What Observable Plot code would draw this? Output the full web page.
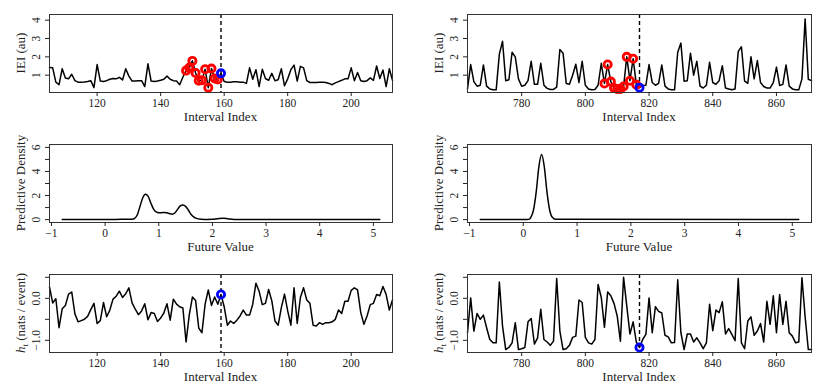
<!DOCTYPE html>
<html><head><meta charset="utf-8">
<script src="https://cdn.jsdelivr.net/npm/d3@7"></script>
<script src="https://cdn.jsdelivr.net/npm/@observablehq/plot@0.6"></script>
<style>
html,body{margin:0;padding:0;background:#fff;overflow:hidden}
#chart{position:relative;width:830px;height:388px;overflow:hidden}
#chart svg{position:absolute}
</style></head><body><div id="chart"></div>
<script>
// ---------------- data ----------------
const leftStart = 105;   // first interval index, left column
const rightStart = 763;  // first interval index, right column
const focusLeft = 159;
const focusRight = 817;
const historyLen = 11;

const ieiLeft = [1.42,1.40,0.62,0.48,1.35,0.85,0.80,1.05,0.70,0.62,0.62,0.63,0.66,0.70,0.32,1.58,0.68,0.66,0.70,0.78,
0.82,0.80,0.88,0.74,1.35,0.95,0.68,0.68,0.70,0.70,0.38,1.62,0.68,0.66,0.68,0.72,0.78,0.95,0.78,0.70,
0.68,0.48,0.90,1.25,1.40,1.78,1.12,0.70,0.72,1.32,0.32,1.36,0.82,0.76,1.10,0.65,0.62,0.62,0.64,0.64,
0.62,0.62,0.55,1.40,0.78,1.30,0.38,1.32,0.82,0.72,1.10,0.70,0.75,1.35,0.42,0.80,1.30,1.55,0.68,1.48,
1.40,0.70,0.60,0.60,0.60,0.62,0.62,0.60,0.55,0.48,0.58,0.65,0.72,0.80,0.80,1.40,0.70,1.15,0.70,0.65,
0.70,0.85,0.72,1.50,0.82,1.28,0.38,1.35,0.72];

const ieiRight = [0.25,1.58,0.65,0.40,0.45,1.56,0.40,0.25,0.20,0.20,2.15,2.85,0.70,0.75,2.25,2.00,0.80,0.40,0.45,0.70,
1.76,0.50,0.50,1.65,0.45,0.28,0.22,0.22,0.35,2.40,2.20,0.55,0.50,1.00,1.60,0.60,1.76,0.45,0.25,0.20,
0.22,0.45,1.65,0.55,1.58,0.65,0.30,0.25,0.25,0.38,2.00,0.70,1.90,0.48,0.32,0.44,0.45,1.58,0.60,0.45,
0.55,1.56,0.40,0.25,0.20,0.20,2.25,2.75,0.67,0.70,2.20,1.00,1.76,0.40,0.30,0.45,1.70,0.60,0.50,0.70,
1.52,0.30,0.25,0.20,0.25,2.30,2.55,0.67,0.56,2.00,0.80,1.80,0.60,0.38,0.30,0.30,0.60,1.44,0.44,0.50,
1.56,0.40,0.25,0.20,0.20,0.80,4.07,0.78,0.70];

const hLeft = [0.27,-0.11,-0.01,-0.70,-0.25,-0.17,0.10,0.15,-0.37,-0.56,-0.53,-0.50,-0.43,-0.27,-0.12,-0.60,-0.53,-0.10,-0.44,-0.28,
-0.02,0.05,0.17,0.02,0.11,0.25,-0.11,-0.26,-0.39,-0.30,-0.13,-0.51,-0.34,-0.36,-0.55,-0.47,-0.35,-0.13,-0.52,-0.02,
-0.14,-0.20,-0.23,-1.04,-0.40,0.03,-0.05,-0.71,-0.82,-0.14,0.20,-0.17,0.03,-0.14,0.09,-0.20,-0.64,-0.54,-0.60,-0.52,
-0.42,-0.28,-0.40,-0.40,-0.14,0.36,0.17,-0.15,-0.12,0.21,-0.06,-0.54,-0.64,-0.22,0.10,-0.30,-0.64,0.25,-0.60,0.02,
0.25,-0.04,-0.12,-0.64,-0.66,-0.58,-0.62,-0.58,-0.58,-0.56,-0.50,-0.28,-0.36,-0.07,-0.07,0.19,0.25,0.20,-0.34,-0.62,
-0.42,-0.15,-0.12,0.09,0.06,0.28,0.09,-0.28,-0.04];

const hRight = [-0.82,0.01,-0.78,-0.36,-0.50,-0.40,-0.70,-0.98,-1.06,-1.06,0.39,-0.66,-1.22,-1.17,-1.06,-0.58,-1.22,-1.20,-1.17,-0.56,
-0.48,-1.09,-0.94,-0.26,-0.98,-1.04,-1.12,-1.02,0.47,-0.78,-1.22,-1.20,-1.12,-0.93,-0.90,-0.04,-0.10,-0.93,-1.06,-1.09,
-0.98,0.33,0.02,-0.69,0.15,0.06,-0.12,-0.42,-1.02,0.50,-0.18,-0.85,-0.56,-1.04,-1.17,-0.98,-0.86,0.01,-0.82,-0.20,
-0.31,-0.35,-0.88,-0.92,-1.06,-1.05,0.44,-0.82,-1.22,-0.85,-0.85,-1.04,-0.94,-1.06,-1.20,-1.06,-0.14,-0.77,-0.28,-0.34,
-0.08,-0.85,-0.72,-0.86,-1.01,0.47,-1.06,-1.20,-0.54,-0.44,-0.88,-0.78,-0.60,-1.04,-0.07,-0.62,0.06,-0.82,0.09,-0.62,
-0.07,-0.82,-0.90,-1.06,-1.04,0.49,-0.44,-1.22,-1.22];

const densLeftX = [-0.8,0.0,0.3,0.5,0.55,0.6,0.65,0.7,0.75,0.8,0.85,0.9,0.95,1.0,1.05,1.1,1.15,1.2,1.25,1.3,1.35,1.4,1.45,1.5,1.55,1.6,1.65,1.7,1.8,1.9,2.0,2.1,2.2,2.3,2.4,2.5,5.12];
const densLeftY = [0,0,0.02,0.03,0.1,0.4,1.1,1.8,2.1,1.95,1.4,0.9,0.65,0.58,0.58,0.6,0.57,0.5,0.45,0.55,0.85,1.15,1.22,1.1,0.8,0.45,0.22,0.1,0.03,0.01,0.02,0.08,0.12,0.06,0.01,0,0];
const densRightX = [-0.8,0.05,0.1,0.14,0.19,0.24,0.29,0.34,0.39,0.44,0.49,0.54,0.6,5.12];
const densRightY = [0,0,0.02,0.19,0.8,2.3,4.4,5.4,4.4,2.3,0.8,0.19,0.03,0];

const idxTicksLeft = [120,140,160,180,200];
const idxTicksRight = [780,800,820,840,860];
const futureTicks = [-1,0,1,2,3,4,5];
const ieiTicks = [1,2,3,4];
const ieiLabels = [1,2,3,4];
const densTicks = [0,1,2,3,4,5,6];
const densLabels = [0,2,4,6];
const hTicks = [-1,-0.5,0,0.5];
const hLabels = [-1,0];

// ---------------- build ----------------
const FONT = '"Liberation Serif", "DejaVu Serif", serif';
const toSeries = (start, vals) => vals.map((v, k) => ({i: start + k, v}));
const container = document.getElementById("chart");

function panel({col, row, xDomain, yDomain, marks, xTicks, xFmt, yTicks, yLabels, yFmt, xTitle, yTitle}) {
  const ml = col === 0 ? 49 : 52, mr = col === 0 ? 23 : 19;
  const W = 415, H = 130, mt = 14, mb = 38;
  const svg = Plot.plot({
    width: W, height: H, marginTop: mt, marginBottom: mb, marginLeft: ml, marginRight: mr,
    style: {fontFamily: FONT, fontSize: "11.5px", background: "transparent", overflow: "visible", color: "#222"},
    x: {domain: xDomain, label: null},
    y: {domain: yDomain, label: null},
    marks: [
      ...marks,
      Plot.frame({stroke: "#333", strokeWidth: 1}),
      Plot.axisX({ticks: xTicks, tickSize: 4, tickPadding: 2, tickFormat: xFmt, label: null}),
      Plot.axisY({ticks: yTicks, tickSize: 4, tickFormat: () => "", label: null}),
      Plot.text(yLabels, {y: d => d, text: d => yFmt(d), frameAnchor: "left", dx: -10, rotate: -90,
        textAnchor: "middle", lineAnchor: "bottom", fill: "#222"})
    ]
  });
  svg.style.left = (col * 415) + "px";
  svg.style.top = (row * 130) + "px";
  const s = d3.select(svg);
  const cx = ml + (W - ml - mr) / 2, cy = mt + (H - mt - mb) / 2;
  s.append("text").attr("x", cx).attr("y", H - mb + 29).attr("text-anchor", "middle")
    .attr("font-size", 13).attr("fill", "#222").attr("font-family", FONT).text(xTitle);
  const yt = s.append("text").attr("transform", `translate(${ml - 24},${cy}) rotate(-90)`)
    .attr("text-anchor", "middle").attr("font-size", 13).attr("fill", "#222").attr("font-family", FONT);
  if (yTitle === "h") {
    yt.append("tspan").attr("font-style", "italic").text("h");
    yt.append("tspan").attr("font-size", 9).attr("dy", 3).text("t");
    yt.append("tspan").attr("dy", -3).text(" (nats / event)");
  } else {
    yt.text(yTitle);
  }
  container.appendChild(svg);
}

const intFmt = d3.format("d");
const oneFmt = d3.format(".1f");

function ieiMarks(start, vals, focus) {
  const s = toSeries(start, vals);
  return [
    Plot.line(s, {x: "i", y: "v", stroke: "black", strokeWidth: 1.5}),
    Plot.ruleX([focus], {stroke: "black", strokeWidth: 1.4, strokeDasharray: "4,3"}),
    Plot.dot(s.filter(d => d.i >= focus - historyLen && d.i < focus), {x: "i", y: "v", r: 3.6, stroke: "#ff0000", strokeWidth: 2.8, fill: "none"}),
    Plot.dot(s.filter(d => d.i === focus), {x: "i", y: "v", r: 3.6, stroke: "#0000ff", strokeWidth: 2.8, fill: "none"})
  ];
}
function hMarks(start, vals, focus) {
  const s = toSeries(start, vals);
  return [
    Plot.line(s, {x: "i", y: "v", stroke: "black", strokeWidth: 1.5}),
    Plot.ruleX([focus], {stroke: "black", strokeWidth: 1.4, strokeDasharray: "4,3"}),
    Plot.dot(s.filter(d => d.i === focus), {x: "i", y: "v", r: 3.6, stroke: "#0000ff", strokeWidth: 2.8, fill: "none"})
  ];
}
function densMarks(xs, ys) {
  const s = xs.map((x, k) => ({x, y: ys[k]}));
  return [Plot.line(s, {x: "x", y: "y", stroke: "black", strokeWidth: 1.5, curve: "monotone-x"})];
}

const ieiY = [0.055, 4.31], densY = [-0.24, 6.24], hY = [-1.29, 0.567], futX = [-1.037, 5.357];

panel({col: 0, row: 0, xDomain: [105, 213], yDomain: ieiY, marks: ieiMarks(leftStart, ieiLeft, focusLeft),
  xTicks: idxTicksLeft, xFmt: intFmt, yTicks: ieiTicks, yLabels: ieiLabels, yFmt: intFmt, xTitle: "Interval Index", yTitle: "IEI (au)"});
panel({col: 1, row: 0, xDomain: [763, 871], yDomain: ieiY, marks: ieiMarks(rightStart, ieiRight, focusRight),
  xTicks: idxTicksRight, xFmt: intFmt, yTicks: ieiTicks, yLabels: ieiLabels, yFmt: intFmt, xTitle: "Interval Index", yTitle: "IEI (au)"});
panel({col: 0, row: 1, xDomain: futX, yDomain: densY, marks: densMarks(densLeftX, densLeftY),
  xTicks: futureTicks, xFmt: intFmt, yTicks: densTicks, yLabels: densLabels, yFmt: intFmt, xTitle: "Future Value", yTitle: "Predictive Density"});
panel({col: 1, row: 1, xDomain: futX, yDomain: densY, marks: densMarks(densRightX, densRightY),
  xTicks: futureTicks, xFmt: intFmt, yTicks: densTicks, yLabels: densLabels, yFmt: intFmt, xTitle: "Future Value", yTitle: "Predictive Density"});
panel({col: 0, row: 2, xDomain: [105, 213], yDomain: hY, marks: hMarks(leftStart, hLeft, focusLeft),
  xTicks: idxTicksLeft, xFmt: intFmt, yTicks: hTicks, yLabels: hLabels, yFmt: oneFmt, xTitle: "Interval Index", yTitle: "h"});
panel({col: 1, row: 2, xDomain: [763, 871], yDomain: hY, marks: hMarks(rightStart, hRight, focusRight),
  xTicks: idxTicksRight, xFmt: intFmt, yTicks: hTicks, yLabels: hLabels, yFmt: oneFmt, xTitle: "Interval Index", yTitle: "h"});
</script></body></html>
